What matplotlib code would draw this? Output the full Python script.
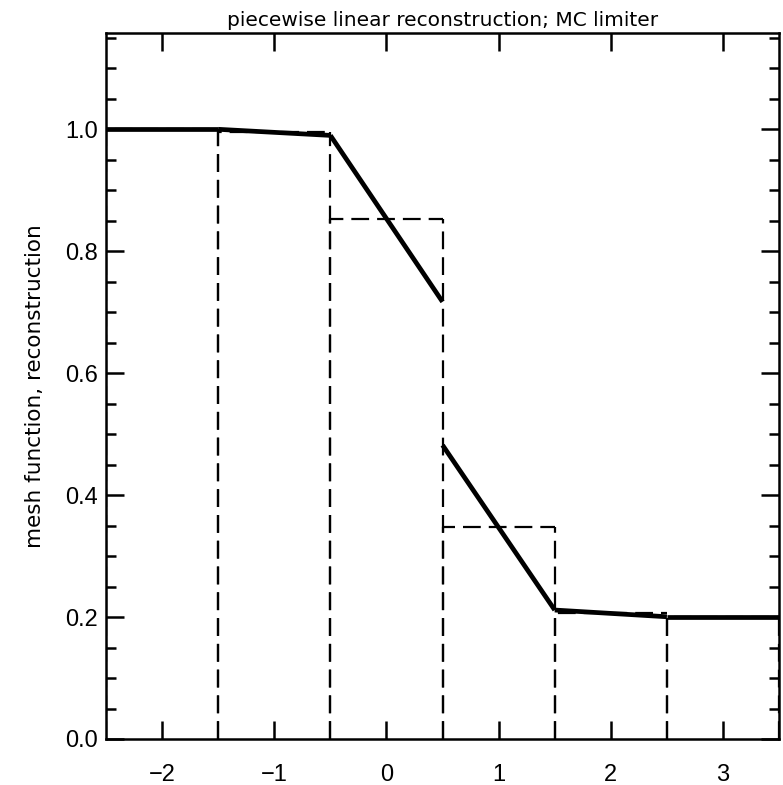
import matplotlib
matplotlib.use('Agg')
import matplotlib.pyplot as plt
from matplotlib.ticker import MultipleLocator, FormatStrFormatter

# --- データ ---
cell_centers = [-2, -1, 0, 1, 2, 3]
cell_means = [1.0, 0.995, 0.853, 0.347, 0.206, 0.2]
# 各セルの左端・右端での再構成値
recon_left = [1.0, 1.0, 0.990, 0.482, 0.2115, 0.2]
recon_right = [1.0, 0.990, 0.717, 0.2115, 0.2005, 0.2]

plt.rcParams['font.family'] = ['Liberation Sans', 'DejaVu Sans']

fig = plt.figure(figsize=(7.83, 7.85), dpi=100)
ax = fig.add_axes([0.1354, 0.0586, 0.8596, 0.8994])

# セル平均（破線の箱）：縦線はすべて下から描いて破線の位相をそろえる
dash = (0, (8, 3.6))
for c, m in zip(cell_centers, cell_means):
    ax.plot([c - 0.5, c - 0.5, c + 0.5], [0, m, m],
            color='black', lw=1.6, linestyle=dash)
    ax.plot([c + 0.5, c + 0.5], [0, m],
            color='black', lw=1.6, linestyle=dash)

# 区分線形再構成
for c, yl, yr in zip(cell_centers, recon_left, recon_right):
    ax.plot([c - 0.5, c + 0.5], [yl, yr], color='black', lw=3.4,
            solid_capstyle='butt')

ax.set_xlim(-2.5, 3.5)
ax.set_ylim(0, 1.158)
ax.xaxis.set_major_locator(MultipleLocator(1))
ax.yaxis.set_major_locator(MultipleLocator(0.2))
ax.yaxis.set_minor_locator(MultipleLocator(0.05))
ax.yaxis.set_major_formatter(FormatStrFormatter('%.1f'))
ax.tick_params(axis='x', which='major', direction='in', top=True,
               length=13, width=1.8, labelsize=17, pad=18)
ax.tick_params(axis='y', which='major', direction='in', right=True,
               length=13, width=1.8, labelsize=17, pad=6)
ax.tick_params(axis='y', which='minor', direction='in', right=True,
               length=7, width=1.8)
for s in ax.spines.values():
    s.set_linewidth(1.8)

ax.set_ylabel("mesh function, reconstruction", fontsize=15.5,
              family='DejaVu Sans', labelpad=14)
ax.set_title("piecewise linear reconstruction; MC limiter", fontsize=14.5,
             family='DejaVu Sans', pad=5)

fig.savefig('out.png', dpi=100)
